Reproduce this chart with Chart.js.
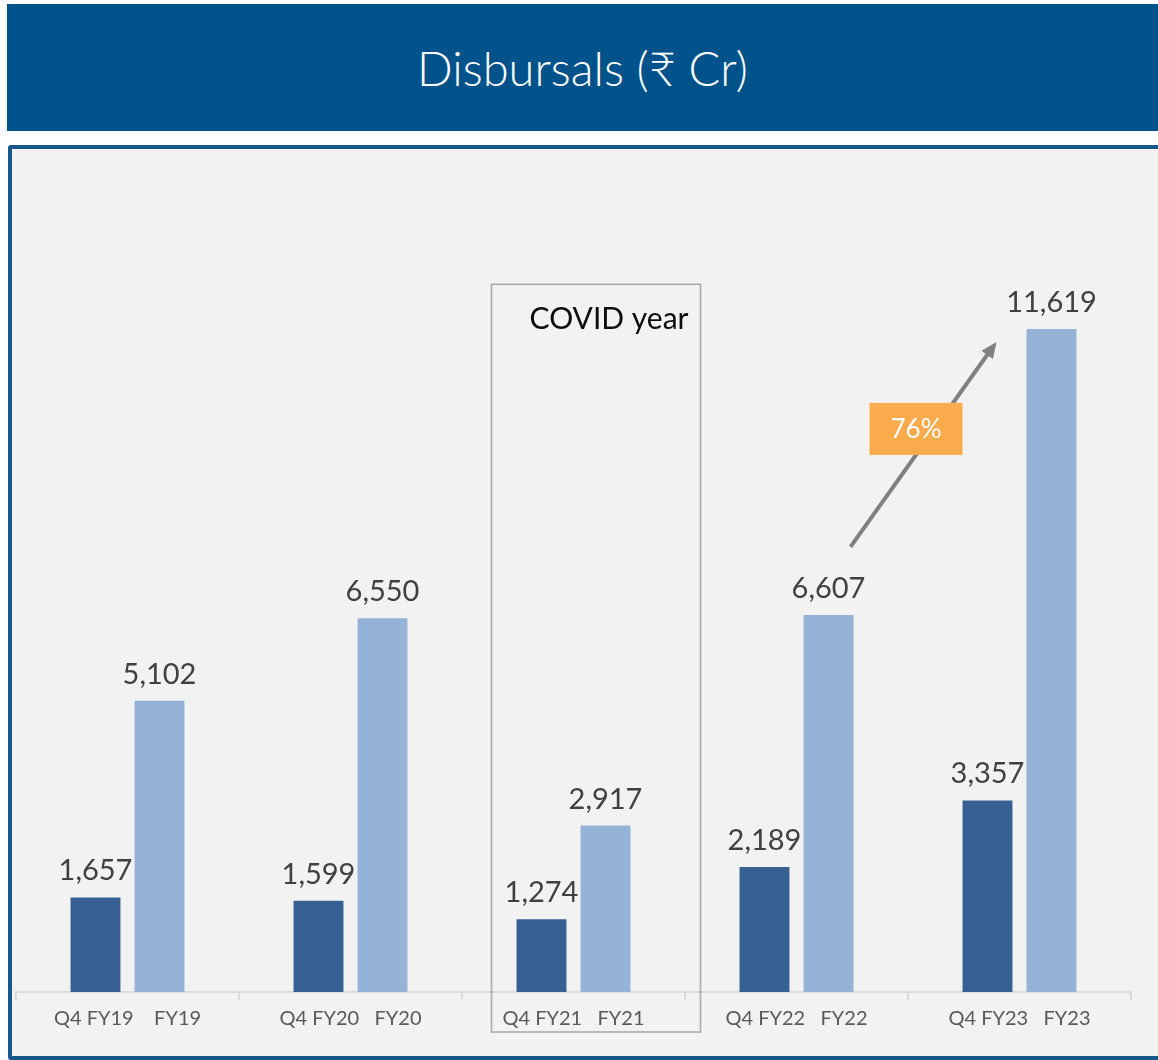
<!DOCTYPE html>
<html>
<head>
<meta charset="utf-8">
<title>Disbursals</title>
<script src="https://cdn.jsdelivr.net/npm/chart.js@4"></script>
<style>
  html, body { margin: 0; padding: 0; background: #ffffff; }
  body { width: 1158px; height: 1060px; position: relative; overflow: hidden; font-family: Lato, 'Noto Sans', sans-serif; }
  #banner {
    position: absolute; left: 7px; top: 4px; width: 1151px; height: 127px;
    background: #00538a; color: #ffffff;
    display: flex; align-items: center; justify-content: center;
    font-size: 47px; font-weight: 300;
  }
  #panel {
    position: absolute; left: 8px; top: 145px; width: 1160px; height: 915px;
    box-sizing: border-box; border: 4px solid #17588b; border-radius: 3px;
    background: #f2f2f2;
  }
  #chart { position: absolute; left: 0; top: 0; }
</style>
</head>
<body>
<div id="banner">Disbursals (₹ Cr)</div>
<div id="panel"></div>
<canvas id="chart" width="1158" height="1060"></canvas>
<script>
const categories = ['Q4 FY19    FY19', 'Q4 FY20   FY20', 'Q4 FY21   FY21', 'Q4 FY22   FY22', 'Q4 FY23   FY23'];
const quarterValues = [1657, 1599, 1274, 2189, 3357];
const yearValues = [5102, 6550, 2917, 6607, 11619];
const growthLabel = '76%';
const covidLabel = 'COVID year';

const labelFont = "Lato, 'Noto Sans', sans-serif";

// value labels, COVID box, growth arrow and badge
const extras = {
    id: 'extras',
    beforeDatasetsDraw(chart) {
        const ctx = chart.ctx;
        const x = chart.scales.x;
        const y = chart.scales.y;
        const cx = x.getPixelForValue(2);
        const left = cx - 82, right = cx + 127;
        const top = y.getPixelForValue(12400);
        const bottom = chart.chartArea.bottom + 40;
        ctx.save();
        ctx.strokeStyle = '#a6a6a6';
        ctx.lineWidth = 1.5;
        ctx.strokeRect(left, top, right - left, bottom - top);
        ctx.fillStyle = '#0d0d0d';
        ctx.font = '30px ' + labelFont;
        ctx.textAlign = 'right';
        ctx.textBaseline = 'middle';
        ctx.fillText(covidLabel, right - 12, top + 35);
        ctx.restore();
    },
    afterDatasetsDraw(chart) {
        const ctx = chart.ctx;
        ctx.save();
        ctx.fillStyle = '#404040';
        ctx.font = '29px ' + labelFont;
        ctx.textAlign = 'center';
        ctx.textBaseline = 'alphabetic';
        chart.data.datasets.forEach((ds, i) => {
            chart.getDatasetMeta(i).data.forEach((bar, j) => {
                ctx.fillText(ds.data[j].toLocaleString('en-US'), bar.x, bar.y - 17);
            });
        });

        // arrow from FY22 to FY23
        const fy = chart.getDatasetMeta(1).data;
        const x0 = fy[3].x + 22, y0 = fy[3].y - 68;
        const x1 = fy[4].x - 55, y1 = fy[4].y + 13;
        const ang = Math.atan2(y1 - y0, x1 - x0);
        ctx.strokeStyle = '#808080';
        ctx.fillStyle = '#808080';
        ctx.lineWidth = 4;
        ctx.beginPath();
        ctx.moveTo(x0, y0);
        ctx.lineTo(x1 - 10 * Math.cos(ang), y1 - 10 * Math.sin(ang));
        ctx.stroke();
        ctx.beginPath();
        ctx.moveTo(x1, y1);
        ctx.lineTo(x1 - 16 * Math.cos(ang) + 7 * Math.sin(ang), y1 - 16 * Math.sin(ang) - 7 * Math.cos(ang));
        ctx.lineTo(x1 - 16 * Math.cos(ang) - 7 * Math.sin(ang), y1 - 16 * Math.sin(ang) + 7 * Math.cos(ang));
        ctx.closePath();
        ctx.fill();

        // growth badge
        const bx = fy[3].x + 41, by = fy[4].y + 74;
        ctx.fillStyle = '#fbab4b';
        ctx.fillRect(bx, by, 93, 52);
        ctx.fillStyle = '#ffffff';
        ctx.font = '26px ' + labelFont;
        ctx.textBaseline = 'middle';
        ctx.fillText(growthLabel, bx + 46.5, by + 27);
        ctx.restore();
    }
};

new Chart(document.getElementById('chart').getContext('2d'), {
    type: 'bar',
    data: {
        labels: categories,
        datasets: [{
            label: 'Q4',
            data: quarterValues,
            backgroundColor: '#376092',
            categoryPercentage: 0.574,
            barPercentage: 0.78
        }, {
            label: 'FY',
            data: yearValues,
            backgroundColor: '#95b3d7',
            categoryPercentage: 0.574,
            barPercentage: 0.78
        }]
    },
    options: {
        responsive: false,
        animation: false,
        devicePixelRatio: 1,
        layout: { padding: { left: 16, right: 27, top: 193, bottom: 22 } },
        scales: {
            x: {
                grid: { display: true, drawOnChartArea: false, drawTicks: true, tickLength: 8, color: '#d9d9d9', lineWidth: 2, offset: true },
                border: { color: '#d9d9d9', width: 2 },
                ticks: { color: '#595959', padding: 7, font: { family: labelFont, size: 20 }, maxRotation: 0, autoSkip: false }
            },
            y: {
                display: false,
                min: 0,
                max: 14000
            }
        },
        plugins: {
            legend: { display: false },
            tooltip: { enabled: false }
        }
    },
    plugins: [extras]
});
</script>
</body>
</html>
